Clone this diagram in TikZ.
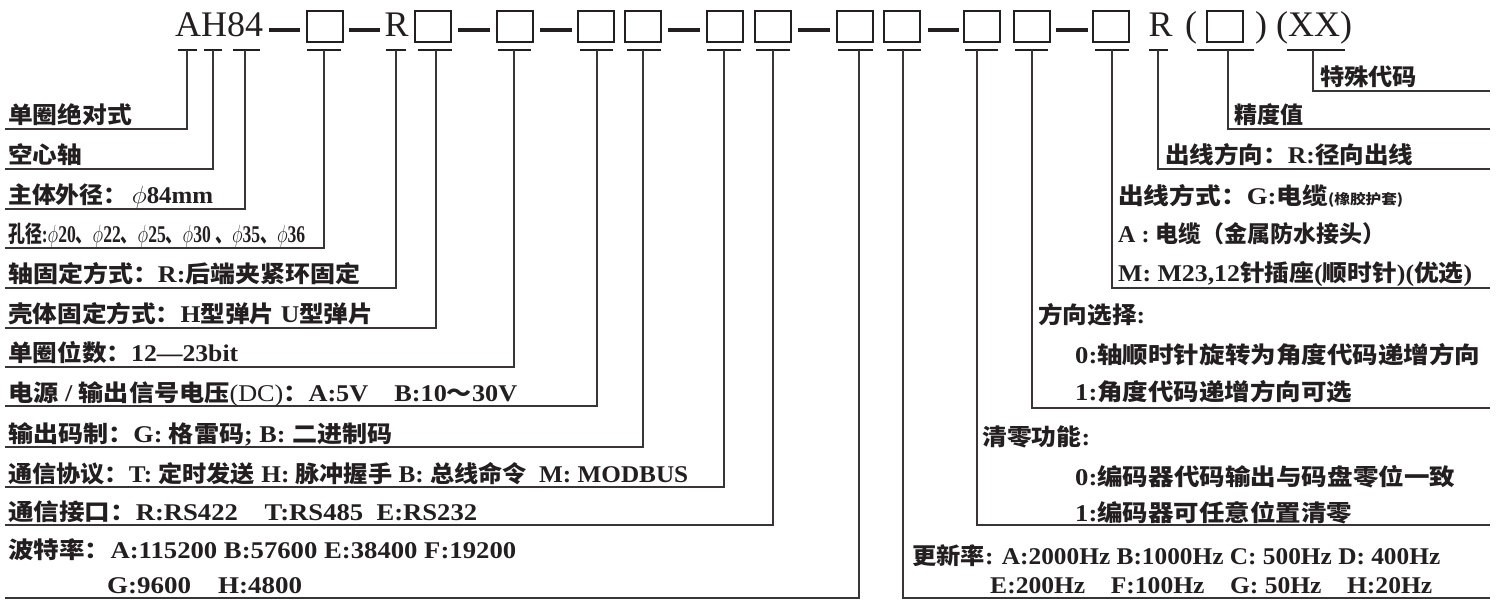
\documentclass[tikz,border=0pt]{standalone}
\usepackage{fontspec}
\usepackage{graphicx}
\setmainfont{Liberation Serif}
\newfontfamily\cjk{Noto Sans CJK SC}
\definecolor{ink}{HTML}{231F20}
\newcommand\Z[1]{{\cjk\fontsize{23}{26}\selectfont #1}}
\newcommand\Zs[1]{{\cjk\fontsize{14}{16}\selectfont #1}}
\newcommand\fw[2]{\resizebox{#1pt}{\height}{#2}}
\begin{document}
\begin{tikzpicture}[x=1pt,y=-1pt,
  codebox/.style={draw=ink,line width=2.2pt,minimum width=36pt,minimum height=31pt,inner sep=0pt},
  dashbar/.style={draw=ink,line width=3.4pt},
  tickbar/.style={draw=ink,line width=2.4pt},
  conn/.style={draw=ink!90,line width=1.5pt},
  lbl/.style={anchor=base west,inner sep=0pt,text=ink,font=\bfseries\fontsize{24}{27}\selectfont},
  code/.style={anchor=base,inner sep=0pt,text=ink,font=\fontsize{36}{40}\selectfont}]
\useasboundingbox (0,0) rectangle (1501,601);

% ---- top code row ----
\node[code,anchor=base west] (ah) at (175,37) {AH84};
\node[code] (R1) at (396.5,37) {R};
\node[code] (R2) at (1160.5,37) {R};
\node[code] (lp) at (1191,37) {(};
\node[code] (rp) at (1261,37) {)};
\node[code] (xx) at (1314,37) {(XX)};
\foreach \n/\cx in {1/325,2/433,3/515,4/596,5/643,6/725,7/773,8/855,9/902,10/982,11/1032,12/1111,13/1225}
  \node[codebox] (b\n) at (\cx,26.5) {};
\foreach \n/\xa/\xb in {1/269/300,2/349/380,3/458/490,4/540/572,5/668/700,6/798/830,7/928/959,8/1056/1088}{
  \coordinate (da\n) at (\xa,30);
  \coordinate (db\n) at (\xb,30);
  \draw[dashbar] (da\n) -- (db\n);
}

% ---- ticks and connectors ----
\foreach \n/\xa/\xb/\vx/\uy/\ex in {
  A/178/197/187/129/5, H/204/222/213/169/5, E/233/260/245/209/5,
  k1/307/341/324/248/5, kR/386/406/396/288/5, k2/418/452/436/328/5,
  k3/498/531/514/367/5, k4/580/613/597/406/5, k5/627/661/643/447/5,
  k6/707/741/724/487/5, k7/756/790/773/525/5, k8/838/873/859/598/5,
  k9/887/921/903/598/1490, k10/965/998/977/525/1490, k11/1015/1048/1032/408/1490,
  k12/1095/1129/1112/288/1490, kR2/1149/1168/1158/169/1490, k13/1197/1254/1228/129/1490,
  kX/1287/1345/1313/91/1490}{
  \coordinate (bl\n) at (\xa,50);
  \coordinate (br\n) at (\xb,50);
  \coordinate (t\n) at (\vx,50);
  \coordinate (e\n) at (\ex,\uy);
  \draw[tickbar] (bl\n) -- (br\n);
  \draw[conn] (t\n) |- (e\n);
}

% ---- left labels ----
\node[lbl] (l1) at (8,124) {\fw{124}{\Z{单圈绝对式}}};
\node[lbl] (l2) at (8,164) {\fw{74}{\Z{空心轴}}};
\node[lbl] (l3) at (8,204) {\fw{205}{\Z{主体外径：}\,$\phi$84mm}};
\node[lbl] (l4) at (8,243) {\fw{297}{\Z{孔径}:$\phi$20\Z{、}$\phi$22\Z{、}$\phi$25\Z{、}$\phi$30 \Z{、}$\phi$35\Z{、}$\phi$36}};
\node[lbl] (l5) at (8,283) {\fw{352}{\Z{轴固定方式：}R:\Z{后端夹紧环固定}}};
\node[lbl] (l6) at (8,323) {\fw{365}{\Z{壳体固定方式：}H\Z{型弹片} U\Z{型弹片}}};
\node[lbl] (l7) at (8,362) {\fw{230}{\Z{单圈位数：}12—23bit}};
\node[lbl] (l8) at (8,401) {\fw{509}{\Z{电源} / \Z{输出信号电压}{\mdseries(DC)}\Z{：}A:5V\quad B:10\Z{～}30V}};
\node[lbl] (l9) at (8,442) {\fw{384}{\Z{输出码制：}G: \Z{格雷码}; B: \Z{二进制码}}};
\node[lbl] (l10) at (8,482) {\fw{680}{\Z{通信协议：}T: \Z{定时发送} H: \Z{脉冲握手} B: \Z{总线命令}\ \ M: MODBUS}};
\node[lbl] (l11) at (8,520) {\fw{469}{\Z{通信接口：}R:RS422\quad T:RS485\ \ E:RS232}};
\node[lbl] (l12) at (8,558) {\fw{508}{\Z{波特率：}A:115200 B:57600 E:38400 F:19200}};
\node[lbl] (l12b) at (107,593) {\fw{195}{G:9600\quad H:4800}};

% ---- right labels ----
\node[lbl] (r1) at (1320,86) {\fw{97}{\Z{特殊代码}}};
\node[lbl] (r2) at (1234,124) {\fw{69}{\Z{精度值}}};
\node[lbl] (r3) at (1165,164) {\fw{248}{\Z{出线方向：}R:\Z{径向出线}}};
\node[lbl] (r4) at (1118,205) {\fw{285}{\Z{出线方式：}G:\Z{电缆}\Zs{(橡胶护套)}}};
\node[lbl] (r5) at (1118,243) {\fw{267}{A : \Z{电缆（金属防水接头）}}};
\node[lbl] (r6) at (1118,282) {\fw{354}{M: M23,12\Z{针插座}(\Z{顺时针})(\Z{优选})}};
\node[lbl] (r7) at (1038,324) {\fw{107}{\Z{方向选择}:}};
\node[lbl] (r8) at (1075,363) {\fw{405}{0:\Z{轴顺时针旋转为角度代码递增方向}}};
\node[lbl] (r9) at (1075,400) {\fw{277}{1:\Z{角度代码递增方向可选}}};
\node[lbl] (r10) at (982,445) {\fw{108}{\Z{清零功能}:}};
\node[lbl] (r11) at (1075,485) {\fw{380}{0:\Z{编码器代码输出与码盘零位一致}}};
\node[lbl] (r12) at (1075,521) {\fw{277}{1:\Z{编码器可任意位置清零}}};
\node[lbl] (r13) at (912,564) {\fw{528}{\Z{更新率}: A:2000Hz B:1000Hz C: 500Hz D: 400Hz}};
\node[lbl] (r14) at (990,593) {\fw{442}{E:200Hz\quad F:100Hz\quad G: 50Hz\quad H:20Hz}};
\end{tikzpicture}
\end{document}
